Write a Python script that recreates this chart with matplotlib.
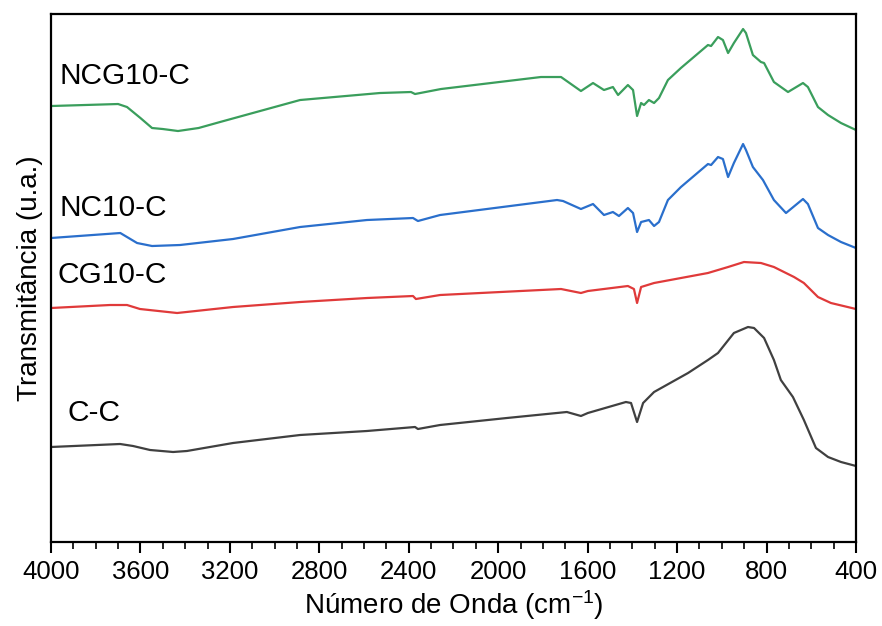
import matplotlib
matplotlib.use('Agg')
from matplotlib import pyplot as plt
from matplotlib.ticker import MultipleLocator

plt.rcParams['font.family'] = ['Liberation Sans', 'DejaVu Sans']
plt.rcParams['mathtext.default'] = 'regular'

# %% data (wavenumber in cm-1, transmittance in a.u.)
ncg_wn = [4000, 3700, 3660, 3600, 3548, 3500, 3432, 3340, 3244, 2886, 2529,
          2390, 2372, 2256, 1809, 1719, 1630, 1576, 1527, 1487, 1464, 1420,
          1397, 1379, 1361, 1348, 1326, 1303, 1281, 1241, 1183, 1062, 1048,
          1017, 995, 972, 946, 905, 892, 861, 825, 811, 767, 704, 637, 615,
          570, 525, 467, 400]
ncg_t = [436, 438, 435, 424, 414, 413, 411, 414, 420, 442, 449,
         450, 448, 453, 465, 465, 451, 459, 452, 455, 447, 457,
         452, 426, 439, 437, 442, 439, 444, 462, 474, 497, 496,
         505, 502, 489, 499, 513, 509, 487, 480, 479, 460, 450, 459, 455,
         435, 427, 419, 412]

nc_wn = [4000, 3690, 3615, 3548, 3423, 3186, 2886, 2587, 2381, 2359, 2260,
         1737, 1710, 1630, 1576, 1527, 1487, 1460, 1420, 1397, 1379, 1361,
         1326, 1303, 1281, 1241, 1183, 1062, 1048, 1017, 995, 972, 946,
         905, 892, 861, 816, 767, 713, 637, 615, 570, 525, 467, 400]
nc_t = [304, 309, 299, 296, 297, 303, 315, 322, 324, 321, 327,
        342, 341, 333, 338, 327, 330, 326, 334, 329, 310, 320,
        322, 316, 320, 342, 355, 378, 377, 385, 383, 365, 379,
        398, 392, 375, 362, 342, 329, 343, 338, 314, 307, 300, 294]

cg_wn = [4000, 3736, 3660, 3602, 3436, 3186, 2886, 2587, 2381, 2368, 2260,
         1719, 1630, 1599, 1420, 1393, 1379, 1361, 1303, 1062, 972, 901,
         825, 767, 677, 633, 570, 512, 400]
cg_t = [234, 237, 237, 233, 229, 235, 240, 244, 246, 243, 247,
        253, 249, 251, 256, 253, 239, 255, 259, 269, 275, 280,
        279, 275, 265, 259, 245, 239, 233]

cc_wn = [4000, 3691, 3633, 3557, 3454, 3392, 3186, 2886, 2587, 2372, 2359,
         2260, 1961, 1693, 1630, 1599, 1429, 1406, 1379, 1352, 1303, 1151,
         1062, 1017, 946, 883, 856, 811, 767, 736, 682, 633, 579, 525, 467, 400]
cc_t = [95, 98, 96, 92, 90, 91, 99, 107, 111, 115, 113,
        117, 124, 130, 126, 129, 140, 139, 120, 139, 150, 169,
        182, 189, 209, 215, 214, 204, 182, 162, 145, 122, 94, 85, 80, 76]

names = ['NCG10-C', 'NC10-C', 'CG10-C', 'C-C']
label_pos = [(3960, 466), (3960, 334), (3969, 267), (3924, 129)]

# %%
fig = plt.figure(figsize=(8.82, 6.26), dpi=100)
ax = fig.add_axes([0.0578, 0.1342, 0.9127, 0.8434])

ax.plot(ncg_wn, ncg_t, color='#3a9e5c', lw=1.6)
ax.plot(nc_wn, nc_t, color='#2a6fcc', lw=1.6)
ax.plot(cg_wn, cg_t, color='#e03a3a', lw=1.6)
ax.plot(cc_wn, cc_t, color='#404040', lw=1.6)

for name, (x, y) in zip(names, label_pos):
    ax.text(x, y, name, fontsize=21.5, va='center', ha='left')

ax.set_xlim(4000, 400)
ax.set_ylim(0, 528)
ax.xaxis.set_major_locator(MultipleLocator(400))
ax.xaxis.set_minor_locator(MultipleLocator(100))
ax.tick_params(axis='x', which='major', direction='out', length=8, width=1.5,
               labelsize=18.5, pad=5)
ax.tick_params(axis='x', which='minor', direction='out', length=5, width=1.2)
ax.set_yticks([])
for s in ax.spines.values():
    s.set_linewidth(1.6)

ax.set_xlabel('Número de Onda (cm$^{-1}$)', fontsize=20, labelpad=3)
ax.set_ylabel('Transmitância (u.a.)', fontsize=20, labelpad=6)

fig.savefig('out.png', dpi=100)
